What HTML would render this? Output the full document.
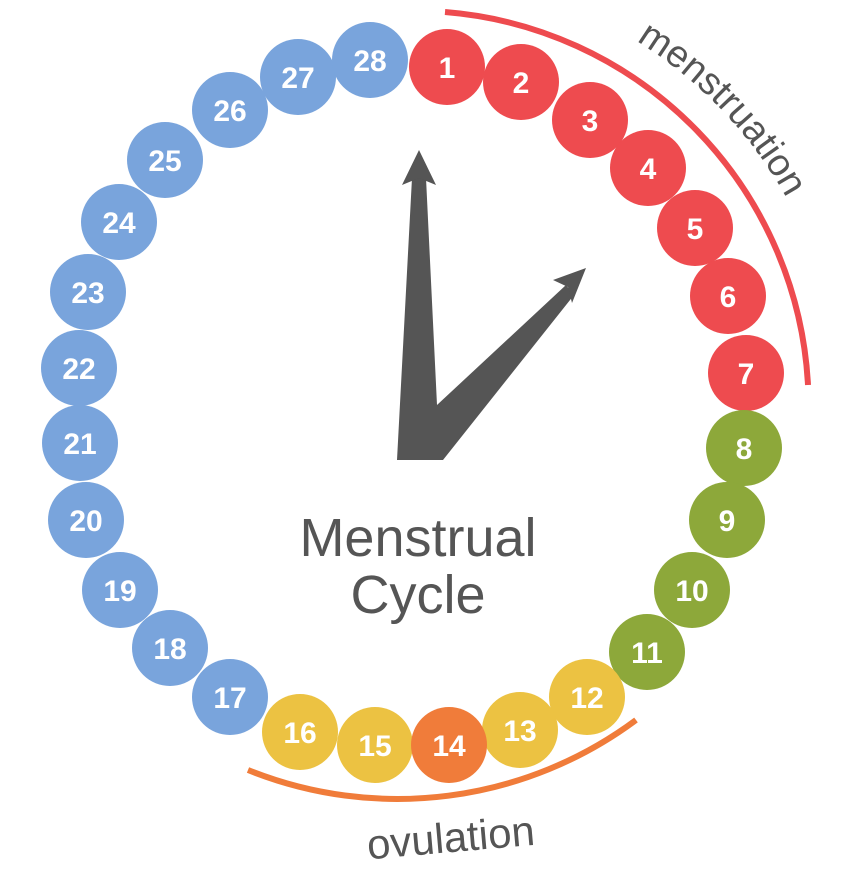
<!DOCTYPE html>
<html><head><meta charset="utf-8"><style>
html,body{margin:0;padding:0;background:#fff;}
svg{display:block}
</style></head><body>
<svg width="845" height="882" viewBox="0 0 845 882" xmlns="http://www.w3.org/2000/svg" font-family="Liberation Sans, sans-serif">
<defs>
<path id="mp" d="M 413 -22 A 427 427 0 0 1 840 405"/>
</defs>
<path d="M 445 12 A 395 395 0 0 1 808 385" fill="none" stroke="#ee4b4f" stroke-width="6"/>
<path d="M 248 770 A 400 400 0 0 0 636 720" fill="none" stroke="#f07c3a" stroke-width="6"/>
<text font-size="38" fill="#555"><textPath href="#mp" startOffset="35%">menstruation</textPath></text>
<text x="452" y="852" font-size="42" fill="#555" text-anchor="middle" transform="rotate(-5 452 852)">ovulation</text>
<!-- hands -->
<polygon points="397,460 412,178 426,178 437,405 566,285 574,295 443,460" fill="#555"/>
<polygon points="419,150 402,185 419,178 436,185" fill="#555"/>
<polygon points="586,268 553,280 568,287 572,303" fill="#555"/>
<text x="418" y="556" font-size="54" fill="#555" text-anchor="middle">Menstrual</text>
<text x="418" y="613" font-size="54" fill="#555" text-anchor="middle">Cycle</text>
<g font-size="30" font-weight="bold" fill="#fff" text-anchor="middle">
<g fill="#ee4b4f">
<circle cx="447" cy="67" r="38"/><circle cx="521" cy="82" r="38"/><circle cx="590" cy="120" r="38"/><circle cx="648" cy="168" r="38"/><circle cx="695" cy="228" r="38"/><circle cx="728" cy="296" r="38"/><circle cx="746" cy="373" r="38"/>
</g>
<g fill="#8da83a">
<circle cx="744" cy="448" r="38"/><circle cx="727" cy="520" r="38"/><circle cx="692" cy="590" r="38"/><circle cx="647" cy="652" r="38"/>
</g>
<g fill="#ecc242">
<circle cx="587" cy="697" r="38"/><circle cx="520" cy="730" r="38"/><circle cx="375" cy="745" r="38"/><circle cx="300" cy="732" r="38"/>
</g>
<circle cx="449" cy="745" r="38" fill="#f07c3a"/>
<g fill="#79a4dc">
<circle cx="230" cy="697" r="38"/><circle cx="170" cy="648" r="38"/><circle cx="120" cy="590" r="38"/><circle cx="86" cy="520" r="38"/><circle cx="80" cy="443" r="38"/><circle cx="79" cy="368" r="38"/><circle cx="88" cy="292" r="38"/><circle cx="119" cy="222" r="38"/><circle cx="165" cy="160" r="38"/><circle cx="230" cy="110" r="38"/><circle cx="298" cy="77" r="38"/><circle cx="370" cy="60" r="38"/>
</g>
<text x="447" y="78">1</text><text x="521" y="93">2</text><text x="590" y="131">3</text><text x="648" y="179">4</text><text x="695" y="239">5</text><text x="728" y="307">6</text><text x="746" y="384">7</text>
<text x="744" y="459">8</text><text x="727" y="531">9</text><text x="692" y="601">10</text><text x="647" y="663">11</text>
<text x="587" y="708">12</text><text x="520" y="741">13</text><text x="449" y="756">14</text><text x="375" y="756">15</text><text x="300" y="743">16</text>
<text x="230" y="708">17</text><text x="170" y="659">18</text><text x="120" y="601">19</text><text x="86" y="531">20</text><text x="80" y="454">21</text><text x="79" y="379">22</text><text x="88" y="303">23</text><text x="119" y="233">24</text><text x="165" y="171">25</text><text x="230" y="121">26</text><text x="298" y="88">27</text><text x="370" y="71">28</text>
</g>
</svg>
</body></html>
